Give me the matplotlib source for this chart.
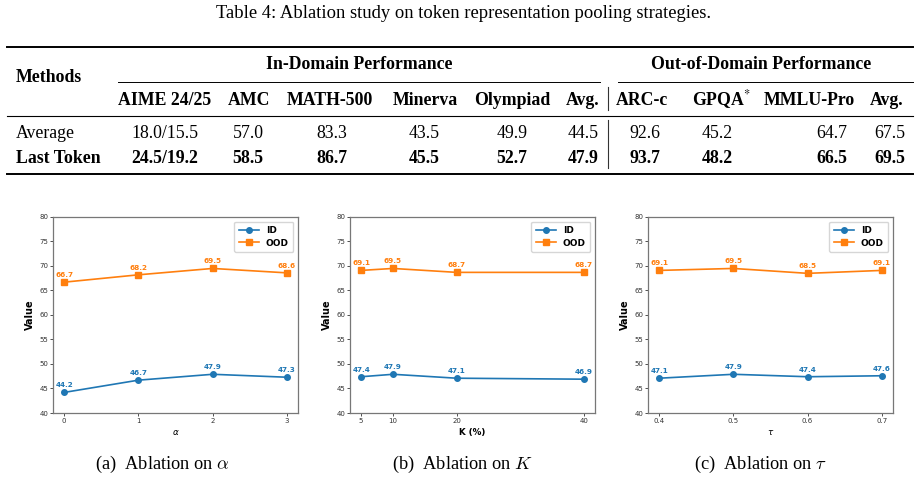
import matplotlib
matplotlib.use("Agg")
import matplotlib.pyplot as plt
from matplotlib.lines import Line2D

# ============================================
# DATA
# ============================================

TITLE = "Table 4: Ablation study on token representation pooling strategies."

id_headers = ["AIME 24/25", "AMC", "MATH-500", "Minerva", "Olympiad", "Avg."]
ood_headers = ["ARC-c", r"GPQA$^{*}$", "MMLU-Pro", "Avg."]

row_names = ["Average", "Last Token"]
row_average = ["18.0/15.5", "57.0", "83.3", "43.5", "49.9", "44.5",
               "92.6", "45.2", "64.7", "67.5"]
row_last = ["24.5/19.2", "58.5", "86.7", "45.5", "52.7", "47.9",
            "93.7", "48.2", "66.5", "69.5"]

alpha_x = [0, 1, 2, 3]
alpha_id = [44.2, 46.7, 47.9, 47.3]
alpha_ood = [66.7, 68.2, 69.5, 68.6]

k_x = [5, 10, 20, 40]
k_id = [47.4, 47.9, 47.1, 46.9]
k_ood = [69.1, 69.5, 68.7, 68.7]

tau_x = [0.4, 0.5, 0.6, 0.7]
tau_id = [47.1, 47.9, 47.4, 47.6]
tau_ood = [69.1, 69.5, 68.5, 69.1]

# ============================================
# FIGURE
# ============================================

W, H = 921, 479
fig = plt.figure(figsize=(W / 100, H / 100), dpi=100)

SERIF = "Liberation Serif"
TS = 12.8


def fx(x):
    return x / W


def fy(y):
    return 1 - y / H


def ftext(x, y, s, bold=False, size=TS, ha="center"):
    fig.text(fx(x), fy(y), s, ha=ha, va="baseline", fontsize=size,
             family=SERIF, fontweight="bold" if bold else "normal",
             math_fontfamily="stix")


def hline(x0, x1, y, lw):
    fig.add_artist(Line2D([fx(x0), fx(x1)], [fy(y), fy(y)], lw=lw,
                          color="black", transform=fig.transFigure))


def vline(x, y0, y1, lw):
    fig.add_artist(Line2D([fx(x), fx(x)], [fy(y0), fy(y1)], lw=lw,
                          color="#333333", transform=fig.transFigure))


# ============================================
# TABLE
# ============================================

ftext(464, 18, TITLE, size=13.4)

hline(7, 913, 47, 1.4)
hline(118, 600, 82, 0.7)
hline(618, 913, 82, 0.7)
hline(7, 913, 116, 0.8)
hline(7, 913, 174, 1.4)
vline(608, 87, 110, 0.8)
vline(608, 120, 168, 0.8)

ftext(16, 82, "Methods", bold=True, ha="left")
ftext(359, 69, "In-Domain Performance", bold=True)
ftext(761, 69, "Out-of-Domain Performance", bold=True)

header_x = [165, 249, 330, 425, 512, 583, 642, 721, 809, 887]
value_x = [165, 248, 332, 424, 512, 583, 645, 717, 832, 890]

for x, h in zip(header_x, id_headers + ood_headers):
    ftext(x, 105, h, bold=True)

ftext(16, 138, row_names[0], ha="left")
ftext(16, 163, row_names[1], bold=True, ha="left")
for x, a, b in zip(value_x, row_average, row_last):
    ftext(x, 138, a)
    ftext(x, 163, b, bold=True)

# ============================================
# ABLATION PLOTS
# ============================================

BLUE = "#1f77b4"
ORANGE = "#ff7f0e"

panels = [
    (53, alpha_x, alpha_id, alpha_ood, r"$\alpha$", "normal",
     r"(a)  Ablation on $\alpha$", 162),
    (350, k_x, k_id, k_ood, "K (%)", "bold",
     r"(b)  Ablation on $K$", 462),
    (648, tau_x, tau_id, tau_ood, r"$\tau$", "normal",
     r"(c)  Ablation on $\tau$", 760),
]

for left, xs, ids, oods, xlabel, xweight, caption, cap_x in panels:
    ax = fig.add_axes([fx(left), fy(413), 245 / W, 196 / H])

    ax.plot(xs, ids, marker="o", color=BLUE, lw=1.2, ms=4, label="ID")
    ax.plot(xs, oods, marker="s", color=ORANGE, lw=1.2, ms=4, label="OOD")

    for x, v in zip(xs, ids):
        ax.annotate(f"{v}", (x, v), xytext=(0, 3), textcoords="offset points",
                    ha="center", va="bottom", fontsize=5.2, color=BLUE,
                    fontweight="bold")
    for x, v in zip(xs, oods):
        ax.annotate(f"{v}", (x, v), xytext=(0, 3), textcoords="offset points",
                    ha="center", va="bottom", fontsize=5.2, color=ORANGE,
                    fontweight="bold")

    ax.set_ylim(40, 80)
    ax.set_yticks(range(40, 81, 5))
    ax.set_xticks(xs)
    ax.set_xticklabels([str(x) for x in xs])
    ax.tick_params(labelsize=5, length=2, width=0.6, pad=1.5,
                   colors="#333333")
    for s in ax.spines.values():
        s.set_color("#777777")
        s.set_linewidth(0.9)

    ax.set_ylabel("Value", fontsize=7, fontweight="bold", labelpad=3)
    ax.set_xlabel(xlabel, fontsize=6.3, fontweight=xweight, labelpad=3)

    ax.legend(loc="upper right", prop={"weight": "bold", "size": 6.5},
              handlelength=2.2, borderpad=0.5, labelspacing=0.4)

    fig.text(fx(cap_x), fy(469), caption, ha="center", va="baseline",
             fontsize=13.2, family=SERIF, math_fontfamily="cm")

fig.savefig("out.png", dpi=100)
